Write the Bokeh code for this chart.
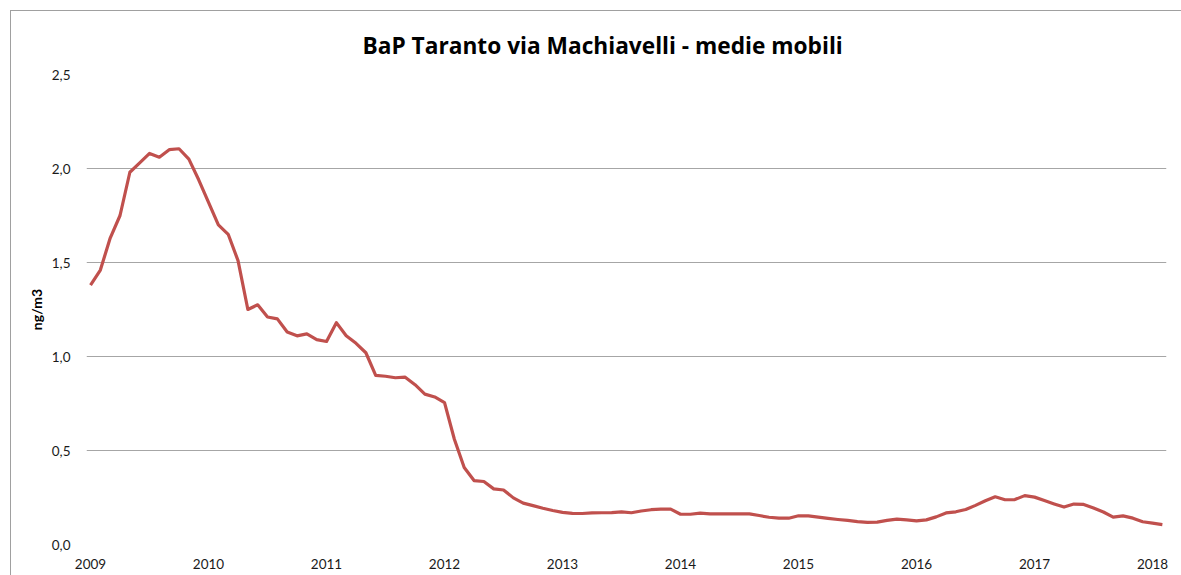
from bokeh.plotting import figure
from bokeh.models import Range1d, FixedTicker, CustomJSTickFormatter, InlineStyleSheet
from bokeh.embed import file_html
from bokeh.resources import INLINE

title_text = "BaP Taranto via Machiavelli - medie mobili"
y_label = "ng/m3"
years = ["2009", "2010", "2011", "2012", "2013", "2014", "2015", "2016", "2017", "2018"]

# monthly moving averages, Jan 2009 .. Feb 2018 (ng/m3)
bap_2009 = [1.38, 1.46, 1.63, 1.75, 1.98, 2.03, 2.08, 2.06, 2.10, 2.105, 2.05, 1.94]
bap_2010 = [1.82, 1.70, 1.65, 1.51, 1.25, 1.275, 1.21, 1.20, 1.13, 1.11, 1.12, 1.09]
bap_2011 = [1.08, 1.18, 1.11, 1.07, 1.02, 0.90, 0.895, 0.887, 0.89, 0.85, 0.80, 0.785]
bap_2012 = [0.755, 0.56, 0.41, 0.34, 0.335, 0.296, 0.29, 0.248, 0.22, 0.207, 0.193, 0.181]
bap_2013 = [0.171, 0.166, 0.165, 0.168, 0.169, 0.17, 0.174, 0.169, 0.178, 0.185, 0.188, 0.188]
bap_2014 = [0.161, 0.161, 0.167, 0.163, 0.163, 0.163, 0.163, 0.163, 0.154, 0.145, 0.14, 0.14]
bap_2015 = [0.153, 0.152, 0.146, 0.139, 0.133, 0.128, 0.122, 0.118, 0.119, 0.128, 0.135, 0.131]
bap_2016 = [0.126, 0.131, 0.147, 0.168, 0.174, 0.186, 0.208, 0.233, 0.254, 0.238, 0.239, 0.26]
bap_2017 = [0.252, 0.234, 0.216, 0.199, 0.215, 0.213, 0.194, 0.173, 0.146, 0.152, 0.14, 0.121]
bap_2018 = [0.114, 0.106]

values = bap_2009 + bap_2010 + bap_2011 + bap_2012 + bap_2013 + bap_2014 + bap_2015 + bap_2016 + bap_2017 + bap_2018
months = list(range(len(values)))

FONT = "Lato"

p = figure(width=1181, height=575, output_backend="svg", toolbar_location=None,
           x_range=Range1d(-0.41, 109.42), y_range=Range1d(0, 2.5),
           min_border_left=86, min_border_right=15, min_border_top=74, min_border_bottom=31,
           title=title_text)

p.line(months, values, line_color="#C0504D", line_width=3.2, line_join="round")

p.title.align = "left"
p.title.offset = 276
p.title.text_font = "Open Sans"
p.title.text_font_size = "22.7px"
p.title.text_font_style = "bold"
p.title.text_color = "#000000"
p.title.standoff = 28

p.outline_line_color = None
p.background_fill_color = "white"
p.border_fill_color = "white"

p.xgrid.grid_line_color = None
p.ygrid.grid_line_color = "#a6a6a6"
p.ygrid.grid_line_width = 1

p.xaxis.ticker = FixedTicker(ticks=[12 * k for k in range(len(years))])
p.xaxis.major_label_overrides = {12 * k: y for k, y in enumerate(years)}
p.yaxis.ticker = FixedTicker(ticks=[0, 0.5, 1.0, 1.5, 2.0, 2.5])
p.yaxis.formatter = CustomJSTickFormatter(code="return tick.toFixed(1).replace('.', ',');")

for ax in (p.xaxis[0], p.yaxis[0]):
    ax.axis_line_color = None
    ax.major_tick_line_color = None
    ax.minor_tick_line_color = None
    ax.major_label_text_font = FONT
    ax.major_label_text_font_size = "13.5px"
    ax.major_label_text_color = "#1a1a1a"

p.xaxis.major_label_standoff = 8
p.yaxis.major_label_standoff = 10
p.yaxis.axis_label = y_label
p.yaxis.axis_label_text_font = FONT
p.yaxis.axis_label_text_font_size = "14px"
p.yaxis.axis_label_text_font_style = "bold"
p.yaxis.axis_label_text_color = "#000000"
p.yaxis.axis_label_standoff = 4

p.stylesheets = [InlineStyleSheet(css="""
:host::after { content: ""; position: absolute; left: 10px; top: 10px; right: -10px; bottom: -10px;
  border-top: 1px solid #a0a0a0; border-left: 1px solid #a0a0a0; pointer-events: none; }
""")]

open("out.html", "w").write(file_html(p, INLINE))
